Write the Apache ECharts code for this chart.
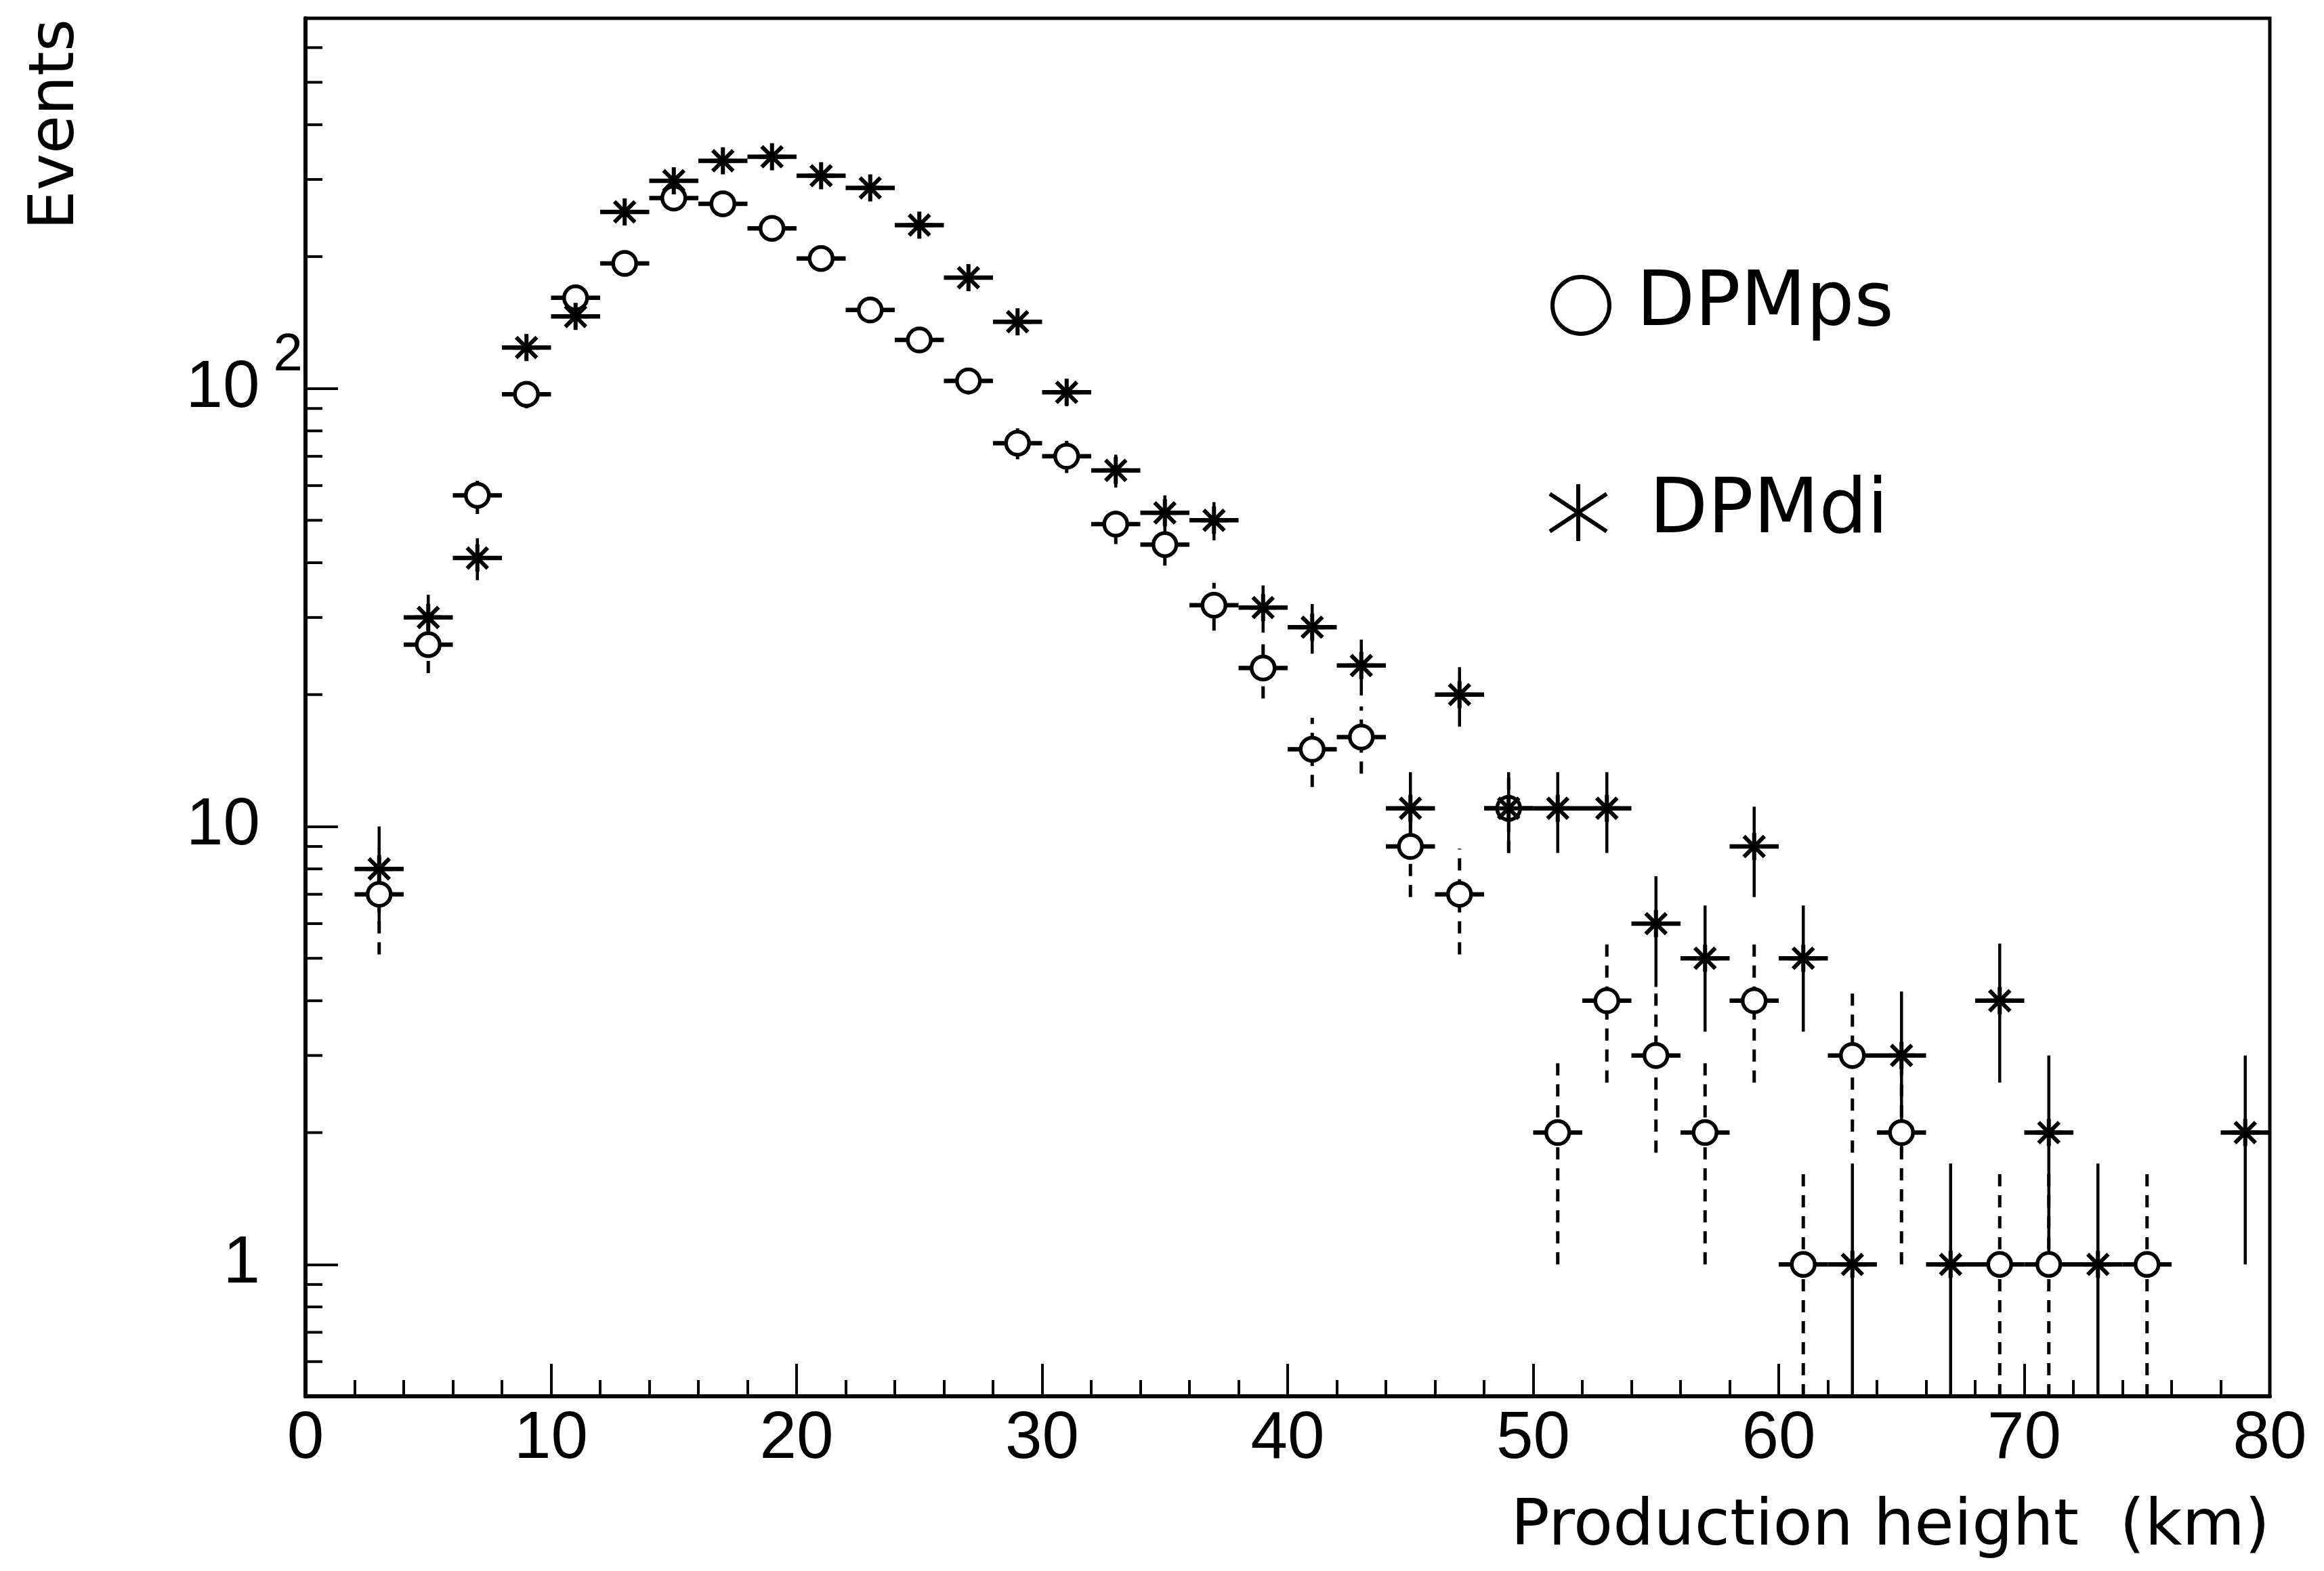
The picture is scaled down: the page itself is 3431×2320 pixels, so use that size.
<!DOCTYPE html>
<html>
<head>
<meta charset="utf-8">
<script src="https://cdn.jsdelivr.net/npm/echarts@6/dist/echarts.min.js"></script>
<style>
html,body{margin:0;padding:0;background:#fff;}
#chart{width:3431px;height:2320px;}
</style>
</head>
<body>
<div id="chart"></div>
<script>
// ---- data ----
const binCenters = [3,5,7,9,11,13,15,17,19,21,23,25,27,29,31,33,35,37,39,41,43,45,47,49,51,53,55,57,59,61,63,65,67,69,71,73,75,77,79];
const binWidth = 2;
const dpmPs    = [7,26,57,97,161,193,272,264,232,198,151,129,104,75,70,49,44,32,23,15,16,9,7,11,2,4,3,2,4,1,3,2,null,1,1,null,1,null,null];
const dpmPsErr = [1.9,3.6,5.3,6.9,8.9,9.7,11.5,11.4,10.7,9.9,8.6,8.0,7.1,6.1,5.9,4.9,4.6,4.0,3.4,2.7,2.8,2.1,1.9,2.3,1.0,1.4,1.2,1.0,1.4,0.65,1.2,1.0,null,0.65,0.65,null,0.65,null,null];
const dpmDi    = [8,30,41,124,146,253,298,331,338,306,287,236,179,142,98,65,52,50,31.6,28.5,23.3,11,20,11,11,11,6,5,9,5,1,3,1,4,2,1,null,null,2];
const dpmDiErr = [2.0,3.8,4.5,7.8,8.5,11.1,12.1,12.7,12.9,12.2,11.9,10.8,9.4,8.3,6.9,5.6,5.0,5.0,3.9,3.7,3.4,2.3,3.1,2.3,2.3,2.3,1.7,1.6,2.1,1.6,0.7,1.2,0.7,1.4,1.0,0.7,null,null,1.0];
const seriesNames = ['DPMps', 'DPMdi'];
const xRange = [0, 80];
const yRange = [0.5, 700];
const yMinorTicks = [0.6,0.7,0.8,0.9,2,3,4,5,6,7,8,9,20,30,40,50,60,70,80,90,200,300,400,500,600];
const xTitle = 'Production height  (km)';
const yTitle = 'Events';

// ---- build ----
const FONT = 'DejaVu Sans';
const NUMFONT = 'Liberation Sans';
function pts(vals, errs) {
  const out = [];
  for (let i = 0; i < binCenters.length; i++) {
    if (vals[i] != null) out.push([binCenters[i], vals[i], errs[i]]);
  }
  return out;
}
const psData = pts(dpmPs, dpmPsErr);
const diData = pts(dpmDi, dpmDiErr);

function errRender(dashed) {
  return function (params, api) {
    const x = api.value(0), v = api.value(1), e = api.value(2);
    const lo = Math.max(v - e, yRange[0]);
    const hi = Math.min(v + e, yRange[1]);
    const pL = api.coord([x - binWidth / 2, v]);
    const pR = api.coord([x + binWidth / 2, v]);
    const pLo = api.coord([x, lo]);
    const pHi = api.coord([x, hi]);
    return {
      type: 'group',
      children: [
        {type: 'line', shape: {x1: pL[0], y1: pL[1], x2: pR[0], y2: pR[1]},
         style: {stroke: '#000', lineWidth: 6.5}},
        {type: 'line', shape: {x1: pLo[0], y1: pLo[1], x2: pHi[0], y2: pHi[1]},
         style: {stroke: '#000', lineWidth: dashed ? 5 : 4.5, lineDash: dashed ? [18, 13] : null}}
      ]
    };
  };
}

const starSymbol = 'path://M50,0L50,100M0,50L100,50M12,12L88,88M88,12L12,88';
const starLegend = 'path://M50,0L50,100M0,17L100,83M100,17L0,83';

const chart = echarts.init(document.getElementById('chart'), null, {renderer: 'canvas'});
const option = {
  backgroundColor: '#fff',
  animation: false,
  grid: {left: 451, right: 80, top: 27, bottom: 258, show: true, borderColor: '#000', borderWidth: 5, backgroundColor: 'transparent'},
  xAxis: {
    type: 'value', min: xRange[0], max: xRange[1], interval: 10,
    axisLine: {show: true, onZero: false, lineStyle: {color: '#000', width: 6}},
    axisTick: {show: true, inside: true, length: 48, lineStyle: {color: '#000', width: 4}},
    minorTick: {show: true, splitNumber: 5, length: 24, lineStyle: {color: '#000', width: 4}},
    splitLine: {show: false},
    minorSplitLine: {show: false},
    axisLabel: {color: '#000', fontFamily: NUMFONT, fontSize: 98, margin: 15}
  },
  yAxis: {
    type: 'log', logBase: 10, min: yRange[0], max: yRange[1],
    axisLine: {show: true, onZero: false, lineStyle: {color: '#000', width: 6}},
    axisTick: {show: true, inside: true, length: 48, lineStyle: {color: '#000', width: 4}},
    splitLine: {show: false},
    axisLabel: {
      showMinLabel: false, showMaxLabel: false, margin: 4, color: '#000',
      formatter: function (val) {
        if (Math.abs(val - 100) < 1e-6) return '{b|10}{s|2}';
        if (Math.abs(val - 10) < 1e-6) return '{n|10}';
        if (Math.abs(val - 1) < 1e-6) return '{n|1}';
        return '';
      },
      rich: {
        n: {fontFamily: NUMFONT, fontSize: 98, lineHeight: 98, color: '#000', padding: [0, 63, 0, 0]},
        b: {fontFamily: NUMFONT, fontSize: 98, lineHeight: 98, color: '#000', padding: [0, 0, 0, 0]},
        s: {fontFamily: NUMFONT, fontSize: 78, lineHeight: 78, color: '#000', padding: [0, 0, 96, 20]}
      }
    }
  },
  legend: [
    {
      data: [{name: seriesNames[0], icon: 'circle', itemStyle: {color: '#fff', borderColor: '#000', borderWidth: 6}}],
      left: 2284, top: 390, itemWidth: 154, itemHeight: 84, selectedMode: false,
      textStyle: {fontFamily: FONT, fontSize: 112, color: '#000'}
    },
    {
      data: [{name: seriesNames[1], icon: starLegend, itemStyle: {color: '#000', borderColor: '#000', borderWidth: 6}}],
      left: 2280, top: 696, itemWidth: 200, itemHeight: 84, selectedMode: false,
      textStyle: {fontFamily: FONT, fontSize: 112, color: '#000'}
    }
  ],
  graphic: [
    {type: 'text', x: 3351, y: 2256, silent: true,
     style: {text: xTitle, font: '95px "DejaVu Sans"', fill: '#000', align: 'right', verticalAlign: 'middle'}},
    {type: 'text', x: 84, y: 28, rotation: Math.PI / 2, silent: true,
     style: {text: yTitle, font: '92px "DejaVu Sans"', fill: '#000', align: 'right', verticalAlign: 'middle'}}
  ],
  series: [
    {
      type: 'custom', name: 'yMinor', silent: true,
      data: yMinorTicks.map(v => [xRange[0], v]),
      encode: {x: 0, y: 1},
      renderItem: function (params, api) {
        const p = api.coord([api.value(0), api.value(1)]);
        return {type: 'line', shape: {x1: p[0], y1: p[1], x2: p[0] + 25, y2: p[1]},
                style: {stroke: '#000', lineWidth: 4}};
      }
    },
    {type: 'custom', name: seriesNames[0] + ' err', silent: true, data: psData, encode: {x: 0, y: 1}, renderItem: errRender(true)},
    {type: 'scatter', name: seriesNames[0], silent: true, data: psData.map(d => [d[0], d[1]]),
     symbol: 'circle', symbolSize: 34,
     itemStyle: {color: '#fff', borderColor: '#000', borderWidth: 5.5, opacity: 1}},
    {type: 'custom', name: seriesNames[1] + ' err', silent: true, data: diData, encode: {x: 0, y: 1}, renderItem: errRender(false)},
    {type: 'scatter', name: seriesNames[1], silent: true, data: diData.map(d => [d[0], d[1]]),
     symbol: starSymbol, symbolSize: 40,
     itemStyle: {color: '#000', borderColor: '#000', borderWidth: 6, opacity: 1}}
  ]
};
chart.setOption(option);
</script>
</body>
</html>
